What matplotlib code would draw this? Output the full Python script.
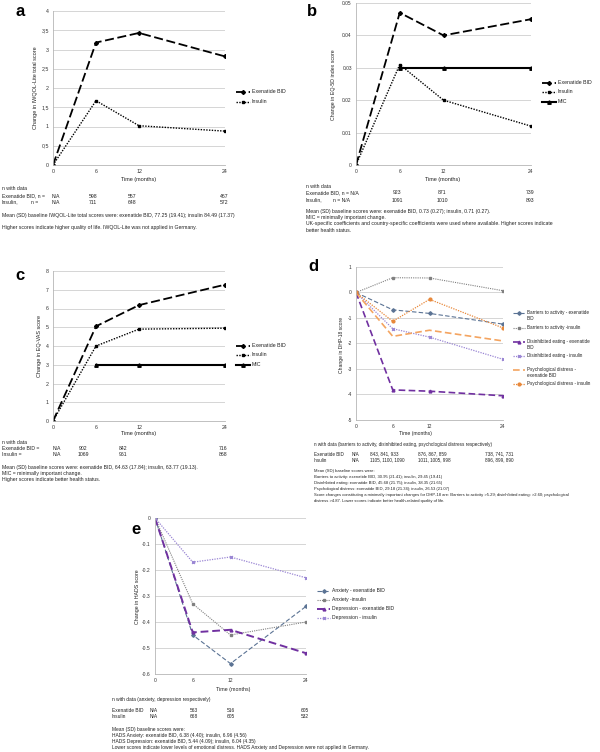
import matplotlib.pyplot as plt
from matplotlib.lines import Line2D

plt.rcParams['font.family'] = ['Liberation Sans', 'DejaVu Sans']

# ---- data ----
months = [0, 6, 12, 24]
mic_months = [6, 12, 24]

a_exenatide = [0, 3.18, 3.43, 2.82]
a_insulin = [0, 1.67, 1.02, 0.88]

b_exenatide = [0, 0.047, 0.040, 0.045]
b_insulin = [0, 0.031, 0.020, 0.012]
b_mic = [0.03, 0.03, 0.03]

c_exenatide = [0, 5.05, 6.18, 7.27]
c_insulin = [0, 4.0, 4.9, 4.95]
c_mic = [3, 3, 3]

d_barriers_exe = [0, -0.68, -0.82, -1.24]
d_barriers_ins = [0, 0.58, 0.57, 0.07]
d_disinh_exe = [0, -3.82, -3.87, -4.05]
d_disinh_ins = [0, -1.42, -1.75, -2.62]
d_psych_exe = [0, -1.72, -1.48, -1.90]
d_psych_ins = [0, -1.13, -0.27, -1.39]

e_anx_exe = [0, -0.45, -0.56, -0.34]
e_anx_ins = [0, -0.33, -0.45, -0.40]
e_dep_exe = [0, -0.44, -0.43, -0.52]
e_dep_ins = [0, -0.17, -0.15, -0.23]

a_n_exe = ['N/A', '598', '557', '467']
a_n_ins = ['N/A', '711', '648', '572']
b_n_exe = ['923', '871', '739']
b_n_ins = ['1091', '1010', '893']
c_n_exe = ['N/A', '902', '842', '716']
c_n_ins = ['N/A', '1069', '961', '868']
d_n_exe = ['N/A', '843, 841, 933', '876, 867, 859', '738, 741, 731']
d_n_ins = ['N/A', '1105, 1100, 1090', '1011, 1005, 998', '896, 899, 890']
e_n_exe = ['N/A', '563', '516', '605']
e_n_ins = ['N/A', '668', '605', '532']

# ---- figure helpers (pixel coords, origin top-left) ----
W, H = 600, 752
fig = plt.figure(figsize=(6, 7.52), dpi=100)
fig.patch.set_facecolor('white')

TXT = '#222222'


def px_axes(l, t, r, b):
    return fig.add_axes([l / W, 1 - b / H, (r - l) / W, (b - t) / H])


def txt(x, y, s, fs=3.7, ha='left', va='center', **kw):
    fig.text(x / W, 1 - y / H, s, fontsize=fs, ha=ha, va=va, color=kw.pop('color', TXT), **kw)


def style_ax(ax, ylim, yticks, yticklabels, fs=3.8):
    ax.set_xlim(0, 24)
    ax.set_ylim(ylim)
    ax.set_xticks(months)
    ax.set_xticklabels([str(m) for m in months])
    ax.set_yticks(yticks)
    ax.set_yticklabels(yticklabels)
    ax.grid(axis='y', color='#cfcfcf', lw=0.6)
    ax.set_axisbelow(True)
    for s in ['top', 'right']:
        ax.spines[s].set_visible(False)
    for s in ['left', 'bottom']:
        ax.spines[s].set_color('#b5b5b5')
        ax.spines[s].set_linewidth(0.6)
    ax.tick_params(length=0, labelsize=fs, labelcolor='#333333', pad=3)


def legend(items, x0, ys, fs=3.8, L=14):
    for (kw, label), y in zip(items, ys):
        yy = 1 - y / H
        ln = Line2D([x0 / W, (x0 + L / 2) / W, (x0 + L) / W], [yy] * 3,
                    transform=fig.transFigure, markevery=[1], **kw)
        fig.add_artist(ln)
        off = fs * 100 / 72 * 0.62
        txt(x0 + L + 2, y - off, label, fs=fs, va='top', linespacing=1.15)


DASH = (0, (5, 2))
DOT = (0, (1, 1))
exe_k = dict(color='black', ls=DASH, lw=1.3, marker='D', ms=2)
ins_k = dict(color='black', ls=DOT, lw=1.0, marker='s', ms=2)
mic_k = dict(color='black', ls='-', lw=1.5, marker='^', ms=2.5)

bar_exe_k = dict(color='#5b7394', ls=(0, (4, 2)), lw=0.8, marker='D', ms=1.8)
bar_ins_k = dict(color='#808080', ls=DOT, lw=0.8, marker='s', ms=1.8)
dis_exe_k = dict(color='#7030a0', ls=(0, (4, 2)), lw=1.2, marker='^', ms=2)
dis_ins_k = dict(color='#9a86d4', ls=DOT, lw=0.9, marker='x', ms=2)
psy_exe_k = dict(color='#f4a460', ls=(0, (4, 2)), lw=1.2)
psy_ins_k = dict(color='#e8883a', ls=DOT, lw=0.9, marker='o', ms=2)

# ---- panel a ----
ax = px_axes(53, 11, 225, 165)
style_ax(ax, (0, 4), [0, 0.5, 1, 1.5, 2, 2.5, 3, 3.5, 4],
         ['0', '0,5', '1', '1,5', '2', '2,5', '3', '3,5', '4'])
ax.plot(months, a_exenatide, **exe_k)
ax.plot(months, a_insulin, **ins_k)
txt(15, 12, 'a', fs=12, weight='bold', color='black')
txt(36, 88, 'Change in IWQOL-Lite total score', fs=4, ha='center', rotation=90)
txt(139, 180, 'Time (months)', fs=4, ha='center')
legend([(exe_k, 'Exenatide BID'), (ins_k, 'Insulin')], 236, [92, 102])
txt(2, 189, 'n with data')
txt(2, 196, 'Exenatide BID, n =')
txt(2, 202, 'Insulin,')
txt(31, 202, 'n =')
txt(52, 196, a_n_exe[0])
txt(52, 202, a_n_ins[0])
for xc, v1, v2 in zip([93, 132, 224], a_n_exe[1:], a_n_ins[1:]):
    txt(xc, 196, v1, ha='center')
    txt(xc, 202, v2, ha='center')
txt(2, 215, 'Mean (SD) baseline IWQOL-Lite total scores were: exenatide BID, 77.25 (19.41); insulin 84.49 (17.37)')
txt(2, 228, 'Higher scores indicate higher quality of life. IWQOL-Lite was not applied in Germany.')

# ---- panel b ----
ax = px_axes(356, 3, 531, 165)
style_ax(ax, (0, 0.05), [0, 0.01, 0.02, 0.03, 0.04, 0.05],
         ['0', '0.01', '0.02', '0.03', '0.04', '0.05'], fs=3.5)
ax.plot(months, b_exenatide, **exe_k)
ax.plot(months, b_insulin, **ins_k)
ax.plot(mic_months, b_mic, **mic_k)
txt(307, 11, 'b', fs=12, weight='bold', color='black')
txt(334, 85, 'Change in EQ-5D index score', fs=3.8, ha='center', rotation=90)
txt(443, 180, 'Time (months)', fs=4, ha='center')
legend([(exe_k, 'Exenatide BID'), (ins_k, 'Insulin'), (mic_k, 'MIC')], 542, [83, 92, 102])
txt(306, 187, 'n with data')
txt(306, 193, 'Exenatide BID, n = N/A')
txt(306, 200, 'Insulin,')
txt(333, 200, 'n = N/A')
for xc, v1, v2 in zip([397, 442, 530], b_n_exe, b_n_ins):
    txt(xc, 193, v1, ha='center')
    txt(xc, 200, v2, ha='center')
txt(306, 212, 'Mean (SD) baseline scores were: exenatide BID, 0.73 (0.27); insulin, 0.71 (0.27).')
txt(306, 218, 'MIC = minimally important change.')
txt(306, 224, 'UK-specific coefficients and country-specific coefficients were used where available. Higher scores indicate')
txt(306, 230, 'better health status.')

# ---- panel c ----
ax = px_axes(53, 271, 225, 421)
style_ax(ax, (0, 8), list(range(9)), [str(v) for v in range(9)])
ax.plot(months, c_exenatide, **exe_k)
ax.plot(months, c_insulin, **ins_k)
ax.plot(mic_months, c_mic, **mic_k)
txt(15, 275, 'c', fs=12, weight='bold', color='black')
txt(39, 346, 'Change in EQ-VAS score', fs=4, ha='center', rotation=90)
txt(139, 434, 'Time (months)', fs=4, ha='center')
legend([(exe_k, 'Exenatide BID'), (ins_k, 'Insulin'), (mic_k, 'MIC')], 236, [346, 355, 365])
txt(2, 442, 'n with data')
txt(2, 449, 'Exenatide BID =')
txt(2, 455, 'Insulin =')
txt(53, 449, c_n_exe[0])
txt(53, 455, c_n_ins[0])
for xc, v1, v2 in zip([83, 123, 223], c_n_exe[1:], c_n_ins[1:]):
    txt(xc, 449, v1, ha='center')
    txt(xc, 455, v2, ha='center')
txt(2, 468, 'Mean (SD) baseline scores were: exenatide BID, 64.63 (17.84); insulin, 63.77 (19.13).')
txt(2, 474, 'MIC = minimally important change.')
txt(2, 480, 'Higher scores indicate better health status.')

# ---- panel d ----
ax = px_axes(356, 267, 503, 420)
style_ax(ax, (-5, 1), [1, 0, -1, -2, -3, -4, -5],
         ['1', '0', '-1', '-2', '-3', '-4', '-5'], fs=3.5)
ax.plot(months, d_barriers_exe, **bar_exe_k)
ax.plot(months, d_barriers_ins, **bar_ins_k)
ax.plot(months, d_disinh_exe, **dis_exe_k)
ax.plot(months, d_disinh_ins, **dis_ins_k)
ax.plot(months, d_psych_exe, **psy_exe_k)
ax.plot(months, d_psych_ins, **psy_ins_k)
txt(308, 266, 'd', fs=12, weight='bold', color='black')
txt(341, 345, 'Change in DHP-18 score', fs=3.6, ha='center', rotation=90)
txt(415, 433, 'Time (months)', fs=3.7, ha='center')
legend([(bar_exe_k, 'Barriers to activity - exenatide\nBID'),
        (bar_ins_k, 'Barriers to activity -insulin'),
        (dis_exe_k, 'Disinhibited eating - exenatide\nBID'),
        (dis_ins_k, 'Disinhibited eating - insulin'),
        (psy_exe_k, 'Psychological distress -\nexenatide BID'),
        (psy_ins_k, 'Psychological distress - insulin')],
       513, [313, 328, 342, 356, 370, 384], fs=3.3, L=12)
txt(314, 444, 'n with data (barriers to activity, disinhibited eating, psychological distress respectively)', fs=3.3)
txt(314, 454, 'Exenatide BID', fs=3.3)
txt(314, 460, 'Insulin', fs=3.3)
for xl, v1, v2 in zip([352, 370, 418, 485], d_n_exe, d_n_ins):
    txt(xl, 454, v1, fs=3.3)
    txt(xl, 460, v2, fs=3.3)
d_notes = [
    'Mean (SD) baseline scores were:',
    'Barriers to activity: exenatide BID, 30.95 (21.41); insulin, 29.45 (19.41)',
    'Disinhibited eating: exenatide BID, 45.68 (21.75); insulin, 38.35 (21.65)',
    'Psychological distress: exenatide BID, 29.18 (21.34); insulin, 26.53 (21.07)',
    'Score changes constituting a minimally important changes for DHP-18 are: Barriers to activity >5.29; disinhibited eating: >2.60; psychological',
    'distress >4.87. Lower scores indicate better health-related quality of life.',
]
for i, line in enumerate(d_notes):
    txt(314, 471 + 6 * i, line, fs=3.0)

# ---- panel e ----
ax = px_axes(155, 518, 306, 674)
style_ax(ax, (-0.6, 0), [0, -0.1, -0.2, -0.3, -0.4, -0.5, -0.6],
         ['0', '-0.1', '-0.2', '-0.3', '-0.4', '-0.5', '-0.6'], fs=3.6)
ax.plot(months, e_anx_exe, **bar_exe_k)
ax.plot(months, e_anx_ins, **bar_ins_k)
ax.plot(months, e_dep_exe, **dict(dis_exe_k, lw=1.4))
ax.plot(months, e_dep_ins, **dis_ins_k)
txt(131, 529, 'e', fs=12, weight='bold', color='black')
txt(137, 597, 'Change in HADS score', fs=3.8, ha='center', rotation=90)
txt(233, 689, 'Time (months)', fs=3.8, ha='center')
legend([(bar_exe_k, 'Anxiety - exenatide BID'),
        (bar_ins_k, 'Anxiety -insulin'),
        (dict(dis_exe_k, lw=1.4), 'Depression - exenatide BID'),
        (dis_ins_k, 'Depression - insulin')],
       317, [591, 600, 609, 618], fs=3.6, L=13)
txt(112, 699, 'n with data (anxiety, depression respectively)', fs=3.5)
txt(112, 711, 'Exenatide BID', fs=3.5)
txt(112, 717, 'Insulin', fs=3.5)
txt(150, 711, e_n_exe[0], fs=3.5)
txt(150, 717, e_n_ins[0], fs=3.5)
for xc, v1, v2 in zip([194, 231, 305], e_n_exe[1:], e_n_ins[1:]):
    txt(xc, 711, v1, fs=3.5, ha='center')
    txt(xc, 717, v2, fs=3.5, ha='center')
e_notes = [
    'Mean (SD) baseline scores were:',
    'HADS Anxiety: exenatide BID, 6.38 (4.40); insulin, 6.96 (4.56)',
    'HADS Depression: exenatide BID, 5.44 (4.09); insulin, 6.04 (4.35)',
    'Lower scores indicate lower levels of emotional distress. HADS Anxiety and Depression were not applied in Germany.',
]
for i, line in enumerate(e_notes):
    txt(112, 730 + 6 * i, line, fs=3.5)

fig.savefig('out.png', dpi=100, facecolor='white')
